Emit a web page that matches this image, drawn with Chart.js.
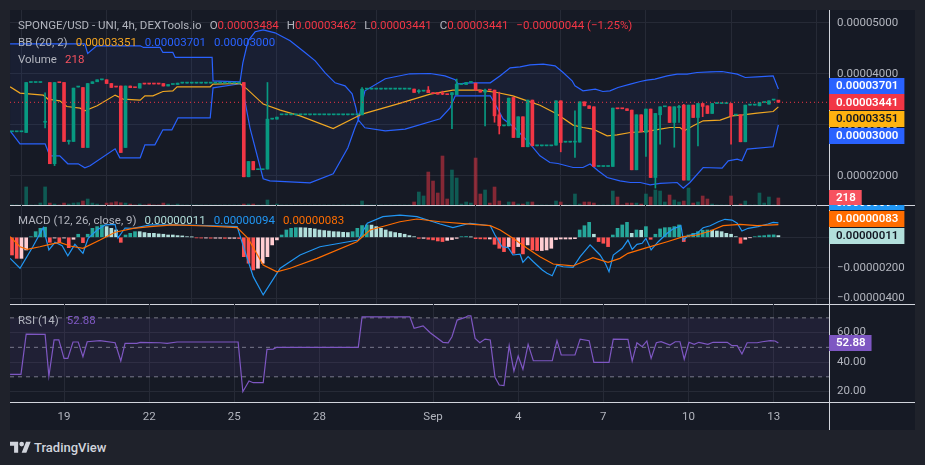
<!DOCTYPE html>
<html>
<head>
<meta charset="utf-8">
<script src="https://cdn.jsdelivr.net/npm/chart.js@4.4.0/dist/chart.umd.min.js"></script>
<style>
  html, body { margin: 0; padding: 0; }
  body { width: 925px; height: 465px; background: #1f222b; overflow: hidden; font-family: Roboto, "Noto Sans", sans-serif; }
  #frame { position: absolute; left: 10px; top: 10px; width: 905px; height: 420px; background: #161a25; overflow: hidden; }
  .pane { position: absolute; left: 0; width: 905px; overflow: hidden; }
  .pane canvas { position: absolute; left: 0; top: -16px; }
  .sep { position: absolute; background: #d1d4dc; }
  .legend { position: absolute; left: 8px; font-size: 11.5px; line-height: 16px; color: #b2b5be; white-space: nowrap; }
  .legend .g { margin-left: 8px; }
  #brand { position: absolute; left: 10px; top: 439px; height: 16px; display: flex; align-items: center; color: #d1d4dc; font-size: 13px; font-weight: 500; }
  #brand svg { margin-right: 3px; }
</style>
</head>
<body>
<div id="frame">
  <div class="sep" style="left:0;top:195px;width:905px;height:1px"></div>
  <div class="sep" style="left:0;top:294px;width:905px;height:1px"></div>
  <div class="sep" style="left:0;top:392px;width:905px;height:1px"></div>
  <div class="sep" style="left:819px;top:0;width:1px;height:420px"></div>

  <div class="pane" style="top:0;height:195px"><canvas id="priceChart" width="905" height="227"></canvas></div>
  <div class="pane" style="top:195px;height:99px"><canvas id="macdChart" width="905" height="131"></canvas></div>
  <div class="pane" style="top:294px;height:126px"><canvas id="rsiChart" width="905" height="142"></canvas></div>

  <div class="legend" style="top:7px">SPONGE/USD - UNI, 4h, DEXTools.io<span class="g">O<span id="lgO" style="color:#f23645"></span></span><span class="g">H<span id="lgH" style="color:#f23645"></span></span><span class="g">L<span id="lgL" style="color:#f23645"></span></span><span class="g">C<span id="lgC" style="color:#f23645"></span></span><span class="g" id="lgChg" style="color:#f23645"></span></div>
  <div class="legend" style="top:24px">BB (20, 2)<span class="g" id="lgBasis" style="color:#f5a623"></span><span class="g" id="lgUpper" style="color:#2962ff"></span><span class="g" id="lgLower" style="color:#2962ff"></span></div>
  <div class="legend" style="top:41px">Volume<span class="g" id="lgVol" style="color:#f7525f"></span></div>
  <div class="legend" style="top:202px">MACD (12, 26, close, 9)<span class="g" id="lgHist" style="color:#b2dfdb"></span><span class="g" id="lgMacd" style="color:#2196f3"></span><span class="g" id="lgSignal" style="color:#ff6d00"></span></div>
  <div class="legend" style="top:302px">RSI (14)<span class="g" id="lgRsi" style="color:#7e57c2"></span></div>
</div>
<div id="brand">
  <svg width="21" height="12" viewBox="0 0 36 20"><path fill="#d1d4dc" d="M14 20H7V8H0V1h14v19zM28 20h-8l7.5-19h8L28 20z"/><circle fill="#d1d4dc" cx="20" cy="5" r="4"/></svg>
  <span>TradingView</span>
</div>

<script>
// prices in units of 1e-8 USD, one candle every 4h
const opens = [
  2863,2863,2863,2849,3829,3829,3829,3050,3829,2237,
  3829,3829,2673,2673,3740,3731,2555,3809,3843,3882,
  3882,3809,3744,3760,2555,3760,3731,3719,3803,3803,
  3803,3803,3809,3760,3790,3790,3817,3817,3817,3817,
  3817,3817,3817,3817,3817,3817,3817,3817,3817,3829,
  1981,2281,2120,2120,2132,3111,3111,3196,3196,3196,
  3196,3196,3196,3196,3196,3196,3196,3196,3196,3196,
  3196,3196,3196,3196,3196,3700,3700,3700,3700,3700,
  3700,3700,3700,3700,3700,3700,3650,3660,3680,3630,
  3630,3620,3600,3590,3590,3790,3790,3830,3817,3680,
  3640,3684,3680,3196,2980,2980,3535,2751,3157,2569,
  3484,2588,2588,2588,2588,2602,3470,2660,2660,2660,
  2660,3450,3372,3353,2183,2183,2183,2183,3318,3318,
  3314,3288,2118,3196,2849,3308,1967,3196,3353,3353,
  3045,3340,3386,1916,3386,3143,3417,3372,3222,3417,
  3417,3417,3417,3190,3196,2667,3386,3386,3372,3437,
  3405,3485,3484
];
const highs = [
  2863,2863,2863,3829,3829,3829,3829,3627,3829,3829,
  3829,3829,2700,3719,3740,3731,3809,3843,3882,3882,
  3882,3809,3744,3760,3760,3760,3731,3809,3803,3803,
  3803,3803,3809,3790,3790,3817,3817,3817,3817,3817,
  3817,3817,3817,3817,3817,3817,3817,3817,3817,3829,
  2281,2281,2120,2120,3829,3111,3150,3196,3196,3196,
  3196,3196,3196,3196,3196,3196,3196,3196,3196,3196,
  3196,3196,3196,3196,3730,3700,3700,3700,3700,3700,
  3700,3700,3700,3700,3700,3700,3690,3660,3750,3630,
  3630,3660,3600,3630,3896,3790,3830,3830,3817,3680,
  3700,3684,3680,3640,2980,3523,3535,3157,3157,3484,
  3484,2588,2588,2588,2588,3470,3470,2660,2660,3274,
  3450,3450,3372,3353,2183,2183,2183,3327,3318,3318,
  3314,3288,3196,3196,3308,3308,3222,3353,3353,3353,
  3353,3380,3400,3386,3386,3417,3417,3372,3417,3417,
  3417,3417,3417,3200,3196,3386,3386,3386,3437,3437,
  3470,3485,3462
];
const lows = [
  2863,2863,2863,2849,3829,3829,3829,2941,2237,2200,
  3825,2673,2620,2673,3740,2555,2555,3809,3843,3882,
  3809,3731,3740,2457,2555,3727,3727,3719,3799,3799,
  3799,3799,3760,3760,3790,3790,3817,3817,3817,3817,
  3817,3817,3817,3817,3817,3817,3817,3817,3817,1981,
  1981,2118,2120,2120,2132,3111,3111,3196,3196,3196,
  3196,3196,3196,3196,3196,3196,3196,3196,3196,3196,
  3196,3196,3196,3196,3196,3700,3700,3700,3700,3700,
  3700,3700,3700,3700,3700,3634,3620,3660,3630,3610,
  3600,3590,3590,2922,3590,3790,3790,3830,3680,3640,
  2980,3680,3050,2820,2980,2980,2751,2751,2569,2569,
  2588,2588,2588,2588,2588,2602,2470,2660,2660,2360,
  2660,3372,3320,2183,2183,2183,2183,2183,3314,3314,
  3280,2118,2118,2863,2380,1967,1759,2620,3353,3045,
  2560,3045,1916,1916,3143,2588,3160,3222,3222,3417,
  3417,3417,2620,3190,2667,2667,3386,3386,3372,3437,
  3405,3485,3441
];
const closes = [
  2863,2863,2863,3829,3829,3829,3829,3060,2237,3829,
  3825,2673,2690,3719,3740,2555,3809,3843,3882,3882,
  3809,3731,3740,2457,3760,3727,3727,3809,3799,3799,
  3799,3799,3760,3790,3790,3817,3817,3817,3817,3817,
  3817,3817,3817,3817,3817,3817,3817,3817,3817,1981,
  2281,2118,2120,2120,3111,3111,3150,3196,3196,3196,
  3196,3196,3196,3196,3196,3196,3196,3196,3196,3196,
  3196,3196,3196,3196,3700,3700,3700,3700,3700,3700,
  3700,3700,3700,3700,3700,3634,3660,3660,3630,3610,
  3600,3600,3590,3630,3798,3790,3830,3830,3680,3640,
  3680,3680,3176,2980,2980,3523,2751,3157,2569,3484,
  2588,2588,2588,2588,2588,3470,2653,2660,2660,2670,
  3450,3372,3320,2183,2183,2183,2183,3327,3314,3314,
  3280,2118,3196,2863,3308,1967,3222,3353,3353,3045,
  3353,3353,1916,3386,3143,3417,3360,3222,3417,3417,
  3417,3417,3176,3200,2667,3386,3386,3386,3437,3437,
  3470,3485,3441
];
const volumes = [
  0,0,0,560,0,0,62,560,60,30,
  0,60,30,60,70,124,186,60,30,0,
  60,70,100,70,60,30,0,30,0,30,
  0,0,60,30,0,30,0,0,0,0,
  0,0,0,0,0,0,0,0,0,30,
  30,30,0,0,155,0,30,0,0,0,
  0,0,0,0,0,0,0,0,0,0,
  0,0,0,0,124,0,0,0,0,0,
  0,0,0,0,0,93,403,280,1023,744,
  372,1520,186,1085,837,30,93,60,1457,341,
  465,60,558,124,0,93,93,30,30,93,
  93,0,0,0,0,124,93,0,0,341,
  30,93,93,60,0,0,0,434,248,0,
  60,60,60,30,341,248,465,434,93,310,
  155,93,124,527,60,93,279,186,30,0,
  0,0,279,0,30,124,0,0,372,60,
  248,0,218
];
// change of the last candle: [price, percent]
const lastChange = [-0.00000044, -1.25];

// Bollinger bands (20, 2): [candle position, price]
const bbUpper = [[-0.4,4588],[15.4,4588],[16.0,4400],[17.9,4548],[27.1,4548],[27.8,4516],[31.3,4516],[31.9,4418],[34.0,4418],[34.5,4320],[42.3,4320],[42.5,3862],[48.2,3843],[48.8,4215],[49.9,4646],[51.4,4823],[53.1,4862],[55.6,4803],[58.8,4646],[62.0,4411],[64.1,4254],[66.2,4019],[68.3,3823],[70.4,3764],[71.9,3608],[72.7,3333],[73.2,3098],[74.6,3666],[78.9,3902],[84.1,4000],[88.4,4005],[91.5,3960],[93.7,3882],[94.3,3804],[96.8,3823],[101.1,3823],[103.2,3960],[105.3,4117],[107.4,4137],[109.5,4176],[112.3,4190],[114.8,4156],[116.5,4025],[118.4,3862],[119.0,3764],[120.7,3666],[123.3,3700],[124.9,3653],[126.4,3666],[128.1,3731],[130.7,3798],[132.8,3849],[134.2,3876],[135.9,3896],[138.5,3960],[140.6,3994],[142.7,3994],[144.8,4025],[147.6,4039],[150.1,4045],[153.3,3994],[155.0,3927],[157.5,3941],[160.9,3960],[162.0,3701]];
const bbBasis = [[-0.4,3745],[1.7,3621],[6.6,3582],[7.6,3504],[10.1,3470],[11.6,3359],[14.4,3327],[15.4,3274],[18.0,3372],[21.8,3582],[23.5,3504],[27.1,3484],[28.1,3568],[29.8,3568],[31.9,3653],[34.0,3666],[34.9,3745],[41.9,3745],[42.5,3798],[48.2,3809],[49.7,3700],[53.1,3406],[56.7,3288],[60.9,3176],[67.9,2927],[74.0,3210],[81.4,3406],[88.4,3602],[93.2,3680],[98.9,3680],[102.5,3633],[105.9,3568],[108.9,3470],[111.6,3382],[115.2,3210],[118.6,2994],[120.7,2947],[122.8,2916],[125.8,2784],[127.9,2804],[130.7,2849],[132.8,2863],[134.9,2882],[137.0,2916],[139.1,2947],[141.2,2947],[142.1,2882],[144.0,2980],[146.1,3078],[149.7,3092],[152.2,3176],[154.5,3196],[157.5,3229],[160.9,3261],[162.0,3351]];
const bbLower = [[-0.4,2882],[1.7,2628],[7.0,2628],[8.0,2392],[10.1,2392],[11.8,2236],[14.0,2236],[15.4,2157],[16.5,2196],[21.8,2530],[22.8,2353],[27.1,2353],[28.1,2608],[30.2,2608],[31.9,2902],[33.8,2902],[35.1,3137],[41.9,3137],[42.5,3725],[48.2,3804],[48.6,3784],[50.3,2941],[53.1,1942],[54.5,1902],[63.0,1863],[67.9,2040],[71.0,2549],[72.5,2941],[73.2,3098],[74.6,2941],[78.9,2882],[83.1,2916],[90.5,3118],[92.6,3333],[93.7,3568],[101.1,3568],[102.1,3412],[103.8,3118],[106.3,2941],[109.5,2628],[111.6,2392],[113.7,2261],[115.4,2241],[118.6,2163],[120.7,2163],[122.2,2230],[123.9,2098],[125.8,1967],[128.5,1902],[130.7,1869],[132.8,1869],[134.9,1824],[137.0,1850],[140.6,1869],[141.9,1759],[143.3,1869],[146.1,2163],[150.1,2151],[151.4,2294],[153.3,2328],[154.3,2294],[155.4,2524],[160.9,2569],[162.0,3000]];

// MACD (12, 26, 9) in units of 1e-6
const macdHist = [
  -1.16,-1.38,-1.38,-0.83,0.04,0.37,0.59,0.66,-0.33,-0.05,
  -0.33,-0.05,-0.68,-0.13,0.20,-0.35,0.20,0.59,0.70,0.81,
  0.70,0.59,0.48,-0.33,0.15,0.26,0.37,0.37,0.31,0.26,
  0.26,0.22,0.20,0.15,0.15,0.11,0.09,0.04,0.02,-0.04,
  -0.05,-0.05,-0.06,-0.06,-0.06,-0.07,-0.07,-0.07,-0.08,-1.27,
  -1.70,-2.14,-2.03,-1.70,-1.27,-0.50,-0.17,0.15,0.48,0.59,
  0.63,0.63,0.62,0.59,0.55,0.48,0.44,0.41,0.37,0.36,
  0.33,0.31,0.37,0.59,0.77,0.81,0.80,0.70,0.59,0.48,
  0.37,0.31,0.26,0.20,0.11,0.04,-0.07,-0.07,-0.13,-0.17,
  -0.24,-0.28,-0.20,-0.15,-0.07,0.04,0.05,0.02,-0.09,-0.10,
  -0.11,-0.11,-0.46,-0.72,-0.94,-0.61,-1.05,-0.61,-1.09,-0.50,
  -0.83,-0.87,-0.87,-0.83,-0.72,-0.15,-0.11,-0.11,-0.11,-0.09,
  0.48,0.76,0.98,0.20,-0.28,-0.39,-0.61,0.15,0.59,0.81,
  0.98,0.26,0.48,0.46,0.70,-0.13,0.20,0.55,0.63,0.64,
  0.70,0.81,-0.28,0.15,0.26,0.37,0.46,0.48,0.47,0.41,
  0.37,0.26,0.20,0.04,-0.39,-0.13,-0.02,0.04,0.09,0.11,
  0.15,0.16,0.11
];
const macdLine = [[-0.4,-1.38],[1.7,-2.03],[4.4,-0.62],[6.6,0.63],[7.8,-0.83],[9.1,-0.33],[10.6,-0.55],[11.8,-1.21],[13.3,-0.46],[15.0,-1.05],[16.1,-0.07],[18.0,0.48],[19.7,0.81],[21.8,0.85],[22.4,-0.05],[23.9,0.61],[25.6,0.59],[29.2,0.81],[34.0,0.81],[41.2,0.76],[47.6,0.70],[48.8,-0.50],[51.0,-2.58],[53.1,-3.78],[56.7,-2.03],[60.9,-1.16],[65.1,-0.62],[69.3,-0.39],[73.2,-0.18],[75.1,0.92],[78.4,1.35],[82.0,1.46],[85.6,1.35],[89.0,1.02],[90.5,0.87],[93.2,0.63],[96.8,0.92],[101.1,0.76],[102.1,0.15],[103.6,-0.62],[104.9,-0.68],[105.9,-1.16],[107.4,-1.11],[108.0,-1.64],[109.1,-1.27],[110.2,-1.60],[112.1,-2.14],[113.1,-2.36],[114.2,-2.52],[115.2,-1.82],[116.5,-1.93],[118.6,-1.97],[120.1,-1.27],[122.2,-0.50],[124.3,-1.16],[125.4,-1.70],[126.2,-2.26],[127.1,-1.16],[129.0,-0.72],[130.2,-0.18],[131.1,-0.79],[132.1,-0.46],[133.2,-0.39],[134.0,-0.07],[135.1,-0.83],[136.6,-0.29],[138.5,0.26],[139.7,0.54],[141.0,0.70],[141.4,0.76],[141.9,-0.18],[142.9,0.10],[144.8,0.26],[146.1,0.63],[147.6,0.76],[149.3,1.02],[150.7,1.18],[152.2,1.13],[153.3,0.92],[154.3,0.41],[155.6,0.59],[157.7,0.70],[159.8,0.87],[160.9,0.98],[162.0,0.94]];
const signalLine = [[-0.4,0.04],[1.7,-0.62],[3.2,-0.79],[5.9,-0.62],[8.0,-0.46],[10.1,-0.33],[12.3,-0.57],[15.0,-0.72],[18.6,-0.18],[21.8,0.33],[25.6,0.59],[29.2,0.70],[34.0,0.81],[41.2,0.74],[47.6,0.63],[49.9,-0.07],[53.1,-1.82],[56.0,-2.26],[58.8,-2.03],[64.5,-1.38],[72.9,-0.29],[75.7,0.48],[82.0,1.02],[85.6,1.20],[90.5,1.02],[96.8,0.87],[101.1,0.76],[103.2,0.48],[105.9,-0.07],[108.9,-0.72],[111.6,-1.27],[114.4,-1.75],[118.6,-1.88],[120.7,-1.60],[122.8,-1.34],[126.0,-1.64],[128.5,-1.38],[130.2,-1.05],[134.2,-0.68],[138.5,-0.29],[141.9,0.04],[144.8,0.15],[147.6,0.41],[150.3,0.76],[153.9,0.85],[157.5,0.76],[162.0,0.83]];

// RSI (14)
const rsiLine = [[-0.4,31.7],[1.9,31.7],[3.0,59.0],[7.0,58.8],[7.8,30.5],[8.9,55.0],[9.9,55.0],[11.0,42.5],[11.8,42.5],[12.9,53.6],[14.0,53.6],[15.0,43.6],[15.9,53.8],[18.6,54.5],[21.8,53.1],[23.0,40.7],[23.9,52.7],[26.4,52.7],[27.1,53.4],[31.3,53.1],[32.8,52.7],[34.9,53.6],[47.8,53.6],[48.8,19.9],[50.1,27.2],[51.0,26.0],[53.1,26.0],[53.9,48.6],[55.2,48.8],[56.0,50.0],[73.2,50.0],[74.0,70.7],[84.1,70.7],[85.0,62.9],[86.9,64.6],[88.4,59.9],[91.1,53.4],[92.2,53.1],[93.0,57.2],[94.1,68.5],[95.8,70.3],[96.4,71.4],[97.0,71.4],[97.9,56.1],[98.9,53.1],[100.0,55.6],[101.1,55.0],[102.1,29.7],[103.0,24.4],[104.0,24.0],[105.1,51.1],[106.1,33.9],[107.0,44.1],[108.0,35.1],[109.1,52.0],[110.2,40.9],[114.2,40.9],[115.2,54.5],[116.1,44.8],[119.0,44.8],[120.1,55.6],[122.0,54.5],[123.0,39.8],[126.2,39.8],[127.1,55.6],[130.2,55.4],[131.1,40.7],[132.1,53.1],[133.2,50.4],[134.2,54.3],[135.1,42.5],[136.2,53.1],[137.2,53.8],[139.1,51.6],[140.2,53.8],[141.2,53.8],[142.1,41.9],[143.1,53.4],[144.2,52.0],[145.2,53.4],[147.1,52.0],[148.2,53.4],[151.2,53.4],[152.2,51.1],[153.3,51.1],[154.3,45.5],[155.4,53.1],[157.5,53.1],[158.6,53.8],[160.3,54.5],[161.3,54.3],[162.0,52.88]];
const rsiLevels = [70, 50, 30];

// axes
const dateTicks = [11, 29, 47, 65, 89, 107, 125, 143, 161];
const dateLabels = ['19', '22', '25', '28', 'Sep', '4', '7', '10', '13'];
const priceTicks = [2000, 3000, 4000, 5000];
const macdTicks = [0, -2, -4];
const rsiTicks = [20, 40, 60];

const X_MIN = -0.42, X_MAX = 172.7;
const UP = '#089981', DOWN = '#f23645';
const GRID = '#262a36';
const TEXT = '#b2b5be';
const FONT = { family: 'Roboto', size: 11.5 };
const PAD = 16; // canvas overhang above and below each pane

const n = opens.length;
const fmtPrice = v => (v * 1e-8).toFixed(8);
const fmtMacd = v => (v < 0 ? '\u2212' : '') + Math.abs(v * 1e-6).toFixed(8);
const pts = arr => arr.map(p => ({ x: p[0], y: p[1] }));
const last = arr => arr[arr.length - 1][1];

// legend texts
document.getElementById('lgO').textContent = fmtPrice(opens[n - 1]);
document.getElementById('lgH').textContent = fmtPrice(highs[n - 1]);
document.getElementById('lgL').textContent = fmtPrice(lows[n - 1]);
document.getElementById('lgC').textContent = fmtPrice(closes[n - 1]);
document.getElementById('lgChg').textContent = '\u2212' + Math.abs(lastChange[0]).toFixed(8) + ' (\u2212' + Math.abs(lastChange[1]).toFixed(2) + '%)';
document.getElementById('lgBasis').textContent = fmtPrice(last(bbBasis));
document.getElementById('lgUpper').textContent = fmtPrice(last(bbUpper));
document.getElementById('lgLower').textContent = fmtPrice(last(bbLower));
document.getElementById('lgVol').textContent = volumes[n - 1];
document.getElementById('lgHist').textContent = fmtMacd(macdHist[n - 1]);
document.getElementById('lgMacd').textContent = fmtMacd(last(macdLine));
document.getElementById('lgSignal').textContent = fmtMacd(last(signalLine));
document.getElementById('lgRsi').textContent = last(rsiLine).toFixed(2);

function xAxis(showLabels) {
  return {
    type: 'linear', min: X_MIN, max: X_MAX, offset: false,
    afterBuildTicks: s => { s.ticks = dateTicks.map(v => ({ value: v })); },
    afterFit: s => { s.height = showLabels ? 28 : 0; },
    grid: { color: GRID, drawTicks: false },
    border: { display: false },
    ticks: { display: showLabels, color: TEXT, font: FONT, padding: 8, maxRotation: 0, autoSkip: false,
             callback: (v, i) => dateLabels[i] }
  };
}

function yAxis(min, max, ticks, fmt) {
  return {
    position: 'right', min: min, max: max,
    afterBuildTicks: s => { s.ticks = ticks.map(v => ({ value: v })); },
    afterFit: s => { s.width = 86; },
    grid: { color: GRID, drawTicks: false },
    border: { display: false },
    ticks: { color: TEXT, font: FONT, padding: 8, autoSkip: false, callback: v => fmt(v) }
  };
}

// price tags on the right axis, pushed apart from an anchor tag
function tagPlugin(groups) {
  return {
    id: 'tags',
    afterDraw(chart) {
      const ctx = chart.ctx;
      const x0 = chart.chartArea.right;
      ctx.save();
      ctx.font = '600 11.5px Roboto';
      ctx.textBaseline = 'middle';
      groups.forEach(g => {
        const h = 16.7;
        const tags = g.items.map(t => Object.assign({}, t, { y: chart.scales[g.axis].getPixelForValue(t.value) }));
        const sorted = tags.slice().sort((a, b) => a.y - b.y);
        const k = sorted.indexOf(tags[g.anchor]);
        for (let j = k - 1; j >= 0; j--) sorted[j].y = Math.min(sorted[j].y, sorted[j + 1].y - h);
        for (let j = k + 1; j < sorted.length; j++) sorted[j].y = Math.max(sorted[j].y, sorted[j - 1].y + h);
        tags.forEach(t => {
          const text = g.format(t.value);
          const w = ctx.measureText(text).width + 13;
          ctx.fillStyle = t.bg;
          ctx.fillRect(x0, Math.round(t.y - 8), w, 16);
          ctx.fillStyle = t.fg;
          ctx.fillText(text, x0 + 7, t.y + 0.5);
        });
      });
      ctx.restore();
    }
  };
}

const base = {
  responsive: false, animation: false, events: [],
  plugins: { legend: { display: false }, tooltip: { enabled: false } },
  datasets: { bar: { grouped: false } }
};

const candleColors = opens.map((o, i) => closes[i] >= o ? UP : DOWN);
const volColors = opens.map((o, i) => closes[i] >= o ? 'rgba(8,153,129,0.5)' : 'rgba(242,54,69,0.5)');

new Chart(document.getElementById('priceChart'), {
  type: 'bar',
  data: {
    datasets: [
      { type: 'bar', yAxisID: 'vol', data: volumes.map((v, i) => ({ x: i, y: v })),
        backgroundColor: volColors, barThickness: 3, order: 6 },
      { type: 'line', data: pts(bbUpper), borderColor: '#2962ff', borderWidth: 1.2, pointRadius: 0,
        fill: 2, backgroundColor: 'rgba(60,90,200,0.09)', order: 5 },
      { type: 'line', data: pts(bbLower), borderColor: '#2962ff', borderWidth: 1.2, pointRadius: 0, order: 5 },
      { type: 'line', data: pts(bbBasis), borderColor: '#f0a722', borderWidth: 1.2, pointRadius: 0, order: 4 },
      { type: 'bar', data: opens.map((o, i) => ({ x: i, y: [lows[i], highs[i]] })),
        backgroundColor: candleColors, barThickness: 1, order: 3 },
      { type: 'bar', data: opens.map((o, i) => ({ x: i, y: [o, closes[i]] })),
        backgroundColor: candleColors, barThickness: 3, minBarLength: 1, order: 2 },
      { type: 'line', data: [{ x: X_MIN, y: closes[n - 1] }, { x: X_MAX, y: closes[n - 1] }],
        borderColor: DOWN, borderWidth: 1, borderDash: [1, 3], pointRadius: 0, order: 1 }
    ]
  },
  options: Object.assign({}, base, {
    layout: { padding: { top: PAD, bottom: PAD, left: 0, right: 0 } },
    scales: {
      x: xAxis(false),
      y: yAxis(1428, 5250, priceTicks, fmtPrice),
      vol: { axis: 'y', position: 'left', display: false, min: 0, max: 6050 }
    }
  }),
  plugins: [tagPlugin([
    { axis: 'y', anchor: 1, format: fmtPrice, items: [
      { value: last(bbUpper), bg: '#2962ff', fg: '#ffffff' },
      { value: closes[n - 1], bg: '#f23645', fg: '#ffffff' },
      { value: last(bbBasis), bg: '#ffb310', fg: '#131722' },
      { value: last(bbLower), bg: '#2962ff', fg: '#ffffff' }
    ] },
    { axis: 'vol', anchor: 0, format: v => String(v), items: [
      { value: volumes[n - 1], bg: '#f7525f', fg: '#ffffff' }
    ] }
  ])]
});

const histColors = macdHist.map((h, i) => {
  const p = i > 0 ? macdHist[i - 1] : 0;
  if (h >= 0) return h > p ? '#26a69a' : '#b2dfdb';
  return h < p ? '#ff5252' : '#ffcdd2';
});

new Chart(document.getElementById('macdChart'), {
  type: 'bar',
  data: {
    datasets: [
      { type: 'bar', data: macdHist.map((v, i) => ({ x: i, y: v })), backgroundColor: histColors, barThickness: 3, order: 3 },
      { type: 'line', data: pts(macdLine), borderColor: '#2196f3', borderWidth: 1.2, pointRadius: 0, order: 2 },
      { type: 'line', data: pts(signalLine), borderColor: '#ff6d00', borderWidth: 1.2, pointRadius: 0, order: 1 }
    ]
  },
  options: Object.assign({}, base, {
    layout: { padding: { top: PAD, bottom: PAD, left: 0, right: 0 } },
    scales: { x: xAxis(false), y: yAxis(-4.374, 2.118, macdTicks, fmtMacd) }
  }),
  plugins: [tagPlugin([
    { axis: 'y', anchor: 2, format: fmtMacd, items: [
      { value: last(macdLine), bg: '#2196f3', fg: '#ffffff' },
      { value: last(signalLine), bg: '#ff6d00', fg: '#ffffff' },
      { value: macdHist[n - 1], bg: '#b2dfdb', fg: '#131722' }
    ] }
  ])]
});

new Chart(document.getElementById('rsiChart'), {
  type: 'line',
  data: {
    datasets: [
      { data: [{ x: X_MIN, y: rsiLevels[0] }, { x: X_MAX, y: rsiLevels[0] }], borderColor: '#787b86', borderWidth: 1,
        borderDash: [4, 4], pointRadius: 0, fill: 2, backgroundColor: 'rgba(126,87,194,0.1)', order: 2 },
      { data: [{ x: X_MIN, y: rsiLevels[1] }, { x: X_MAX, y: rsiLevels[1] }], borderColor: '#787b86', borderWidth: 1,
        borderDash: [4, 4], pointRadius: 0, order: 2 },
      { data: [{ x: X_MIN, y: rsiLevels[2] }, { x: X_MAX, y: rsiLevels[2] }], borderColor: '#787b86', borderWidth: 1,
        borderDash: [4, 4], pointRadius: 0, order: 2 },
      { data: pts(rsiLine), borderColor: '#7e57c2', borderWidth: 1.2, pointRadius: 0, order: 1 }
    ]
  },
  options: Object.assign({}, base, {
    layout: { padding: { top: PAD, bottom: 0, left: 0, right: 0 } },
    scales: { x: xAxis(true), y: yAxis(12.9, 79.4, rsiTicks, v => v.toFixed(2)) }
  }),
  plugins: [tagPlugin([
    { axis: 'y', anchor: 0, format: v => v.toFixed(2), items: [
      { value: last(rsiLine), bg: '#7e57c2', fg: '#ffffff' }
    ] }
  ])]
});
</script>
</body>
</html>
